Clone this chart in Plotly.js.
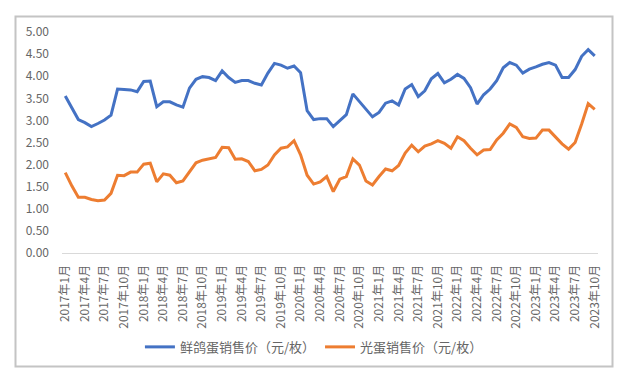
<!DOCTYPE html>
<html><head><meta charset="utf-8">
<script src="https://cdn.plot.ly/plotly-3.0.1.min.js"></script>
<style>html,body{margin:0;padding:0;background:#fff;}#chart{width:630px;height:378px;}</style>
</head><body><div id="chart"></div>
<script>
const years = [2017, 2018, 2019, 2020, 2021, 2022, 2023];
const months = [];
for (const y of years) { for (let m = 1; m <= 12; m++) { if (y === 2023 && m > 10) break; months.push(y + '年' + m + '月'); } }
const tickLabels = months.filter((_, i) => i % 3 === 0);

const pigeonEgg = [
 3.55, 3.27, 3.02, 2.95, 2.86, 2.93, 3.01, 3.12, 3.71, 3.70, 3.69, 3.65,
 3.88, 3.89, 3.31, 3.42, 3.42, 3.35, 3.30, 3.73, 3.93, 3.99, 3.97, 3.90,
 4.12, 3.97, 3.86, 3.90, 3.90, 3.84, 3.80, 4.07, 4.29, 4.25, 4.18, 4.23,
 4.08, 3.22, 3.02, 3.04, 3.04, 2.86, 3.00, 3.13, 3.60, 3.43, 3.26, 3.08,
 3.18, 3.39, 3.44, 3.35, 3.71, 3.81, 3.54, 3.67, 3.94, 4.06, 3.85, 3.93,
 4.04, 3.95, 3.74, 3.37, 3.58, 3.71, 3.90, 4.19, 4.31, 4.25, 4.07, 4.16,
 4.21, 4.27, 4.31, 4.25, 3.97, 3.97, 4.15, 4.45, 4.60, 4.46
];
const plainEgg = [
 1.82, 1.52, 1.26, 1.26, 1.21, 1.18, 1.20, 1.35, 1.76, 1.75, 1.83, 1.83,
 2.01, 2.03, 1.61, 1.79, 1.76, 1.59, 1.63, 1.84, 2.04, 2.10, 2.13, 2.16,
 2.39, 2.38, 2.12, 2.13, 2.07, 1.86, 1.89, 1.99, 2.22, 2.37, 2.40, 2.54,
 2.22, 1.76, 1.56, 1.61, 1.73, 1.39, 1.67, 1.73, 2.13, 1.99, 1.63, 1.54,
 1.73, 1.90, 1.86, 1.98, 2.26, 2.44, 2.29, 2.42, 2.47, 2.54, 2.48, 2.37,
 2.63, 2.54, 2.37, 2.22, 2.33, 2.34, 2.56, 2.71, 2.92, 2.84, 2.63, 2.59,
 2.60, 2.78, 2.78, 2.63, 2.47, 2.35, 2.50, 2.92, 3.38, 3.25
];

const font = "'Noto Sans CJK SC', 'Noto Sans', sans-serif";
const textColor = '#666666';
const traces = [
 {x: months, y: pigeonEgg, type: 'scatter', mode: 'lines', name: '鲜鸽蛋销售价（元/枚）',
  line: {color: '#4472C4', width: 3}},
 {x: months, y: plainEgg, type: 'scatter', mode: 'lines', name: '光蛋销售价（元/枚）',
  line: {color: '#ED7D31', width: 3}}
];
const layout = {
 width: 630, height: 378,
 margin: {l: 62, r: 32, t: 32, b: 125},
 paper_bgcolor: '#ffffff', plot_bgcolor: '#ffffff',
 font: {family: font, color: textColor, size: 12},
 showlegend: true,
 legend: {orientation: 'h', x: 0.47, xanchor: 'center', y: -0.425, yanchor: 'middle',
   font: {size: 13, color: textColor}, itemwidth: 30, bgcolor: 'rgba(0,0,0,0)'},
 xaxis: {type: 'category', range: [-0.5, months.length - 0.5], tickmode: 'array',
   tickvals: tickLabels, ticktext: tickLabels, tickangle: -90,
   tickfont: {size: 12, color: textColor}, showgrid: false, zeroline: false,
   showline: true, linecolor: '#D9D9D9', linewidth: 1, ticks: '', ticklabelstandoff: 6},
 yaxis: {range: [0, 5], dtick: 0.5, tick0: 0, tickformat: '.2f', showgrid: false,
   zeroline: false, showline: false, ticks: '', tickfont: {size: 12, color: textColor},
   ticklabelstandoff: 12},
 shapes: [{type: 'rect', xref: 'paper', yref: 'paper', layer: 'above',
   x0: (15.5 - 62) / 536, x1: (612.5 - 62) / 536, y0: (253 - 366.5) / 221, y1: (253 - 16.5) / 221,
   line: {color: '#C4C4C4', width: 2}, fillcolor: 'rgba(0,0,0,0)'}]
};
Plotly.newPlot('chart', traces, layout, {displayModeBar: false, staticPlot: true});
</script></body></html>
